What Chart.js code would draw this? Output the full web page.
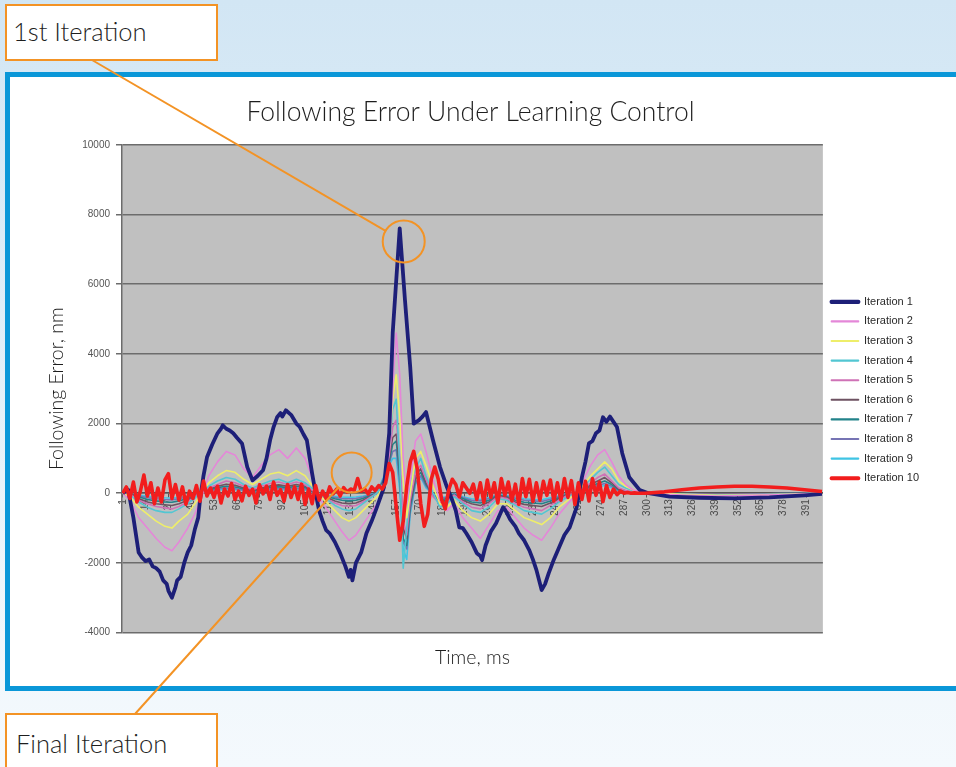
<!DOCTYPE html>
<html>
<head>
<meta charset="utf-8">
<script src="https://cdn.jsdelivr.net/npm/chart.js@4.4.1/dist/chart.umd.min.js"></script>
<style>
  html, body { margin: 0; padding: 0; }
  body {
    width: 956px; height: 767px; overflow: hidden; position: relative;
    background: linear-gradient(180deg, #d2e6f4 0%, #dfeef8 40%, #eef6fb 75%, #f4f9fd 100%);
  }
  .frame {
    position: absolute; left: 5px; top: 72px; width: 970px; height: 619px;
    box-sizing: border-box; border: 5px solid #0a97d8; background: #fff;
  }
  #chart { position: absolute; left: 0; top: 0; }
  .callout {
    position: absolute; left: 5px; width: 213px; box-sizing: border-box;
    background: #fff; border: 2.5px solid #f39325;
    font-family: Lato, "DejaVu Sans", sans-serif; font-weight: 300; font-size: 25.5px; color: #1e1e1e;
    padding-left: 6px;
  }
  #first { top: 4px; height: 57px; line-height: 51px; }
  #final { top: 713px; height: 60px; line-height: 56px; padding-left: 9px; }
</style>
</head>
<body>
<div class="frame"></div>
<canvas id="chart" width="956" height="767"></canvas>
<div class="callout" id="first">1st Iteration</div>
<div class="callout" id="final">Final Iteration</div>
<script>
// time axis labels (ms), one every 13 samples
const timeTicks = [1, 14, 27, 40, 53, 66, 79, 92, 105, 118, 131, 144, 157, 170, 183, 196, 209,
  222, 235, 248, 261, 274, 287, 300, 313, 326, 339, 352, 365, 378, 391];
const errorTicks = [-4000, -2000, 0, 2000, 4000, 6000, 8000, 10000];

// Iteration 1
const iter1Time = [1, 4, 7, 10, 12, 14, 16, 18, 20, 22, 24, 26, 27, 29, 31, 32, 34, 36, 38, 40,
  42, 44, 45, 47, 49, 52, 55, 57, 58, 60, 62, 64, 66, 69, 72, 75, 78, 81, 83, 85,
  87, 89, 91, 92, 94, 97, 100, 102, 104, 106, 109, 111, 113, 115, 117, 119, 122, 125, 128, 130,
  131, 132, 134, 137, 140, 143, 146, 150, 153, 155, 159, 162, 165, 167, 170, 172, 174, 178, 182, 186,
  189, 191, 193, 195, 197, 200, 203, 205, 206, 208, 211, 214, 218, 220, 222, 225, 227, 230, 233, 235,
  237, 240, 242, 244, 247, 250, 253, 256, 260, 263, 265, 267, 269, 271, 273, 275, 277, 279, 283, 286,
  290, 296, 301, 313, 330, 350, 370, 390, 400];
const iter1 = [0, 100, -700, -1700, -1850, -1950, -1900, -2100, -2150, -2250, -2500, -2600, -2800, -3000, -2700, -2500, -2400, -2000, -1700, -1500,
  -1050, -700, -200, 500, 1030, 1400, 1720, 1850, 1950, 1850, 1800, 1720, 1600, 1430, 750, 370, 500, 660, 1000, 1520,
  1900, 2180, 2300, 2200, 2380, 2250, 2000, 1900, 1700, 1520, 570, 0, -500, -800, -1060, -1150, -1400, -1720, -2100, -2400,
  -2200, -2500, -2000, -1700, -1150, -800, -400, 170, 1720, 4600, 7600, 5540, 3620, 2000, 2100, 2200, 2330, 1520, 750, 170,
  -200, -500, -980, -1000, -1150, -1400, -1720, -1800, -1920, -1500, -1100, -860, -400, -550, -750, -950, -1150, -1350, -1640, -1900,
  -2200, -2780, -2600, -2300, -1900, -1550, -1200, -980, -400, 460, 900, 1430, 1500, 1720, 1800, 2180, 2050, 2200, 1900, 1150,
  460, 90, 0, -100, -130, -150, -120, -60, -20];

// Iterations 2 - 9 share one time base
const midTime = [1, 5, 10, 15, 20, 25, 29, 33, 38, 42, 46, 50, 55, 60, 65, 70, 75, 80, 85, 90,
  95, 100, 105, 110, 114, 118, 122, 126, 130, 134, 138, 142, 146, 150, 153, 155, 157, 159, 161, 163,
  165, 168, 171, 174, 178, 182, 186, 190, 195, 200, 205, 210, 215, 220, 225, 230, 235, 240, 245, 250,
  255, 260, 264, 268, 272, 276, 280, 284, 288, 292, 296, 300, 320, 340, 360, 380, 400];
const iter2 = [0, -200, -700, -1000, -1300, -1550, -1650, -1400, -1000, -600, -100, 500, 900, 1200, 1100, 700, 450, 800, 1100, 1250,
  1000, 1300, 1000, 300, -200, -500, -800, -1100, -1350, -1200, -900, -600, -300, 100, 1200, 3000, 4600, 3400, 1000, -300,
  400, 1500, 1700, 1200, 400, -200, -500, -300, -700, -1000, -1300, -900, -500, -400, -700, -1000, -1200, -1350, -1000, -600,
  -300, 0, 400, 800, 1100, 1250, 900, 500, 250, 100, 50, 0, -50, -80, -60, -40, 0];
const iter3 = [0, -100, -400, -600, -800, -950, -1000, -800, -600, -300, 0, 300, 500, 650, 600, 400, 250, 400, 550, 600,
  500, 650, 500, 150, -100, -300, -500, -700, -800, -700, -500, -300, -100, 200, 1300, 2700, 3400, 2200, 400, -700,
  0, 1000, 1200, 800, 200, -300, -400, -200, -500, -700, -800, -600, -300, -300, -500, -700, -800, -900, -700, -400,
  -200, 0, 250, 500, 700, 900, 700, 350, 200, 100, 50, 20, -30, -60, -50, -30, 0];
const iter4 = [0, -50, -250, -400, -500, -550, -550, -450, -300, -150, 50, 200, 350, 450, 400, 250, 150, 250, 350, 400,
  300, 400, 300, 100, -50, -200, -350, -450, -500, -450, -300, -150, 0, 300, 1300, 2400, 2700, 800, -2150, -1000,
  300, 700, 1000, 500, 0, -400, -300, -100, -300, -500, -550, -400, -150, -200, -350, -500, -550, -600, -450, -250,
  -100, 50, 200, 400, 600, 750, 500, 250, 150, 80, 40, 20, -20, -50, -40, -20, 0];
const iter5 = [0, -30, -200, -300, -380, -420, -450, -380, -250, -100, 50, 150, 250, 350, 300, 200, 100, 200, 280, 320,
  250, 320, 250, 50, -80, -180, -280, -350, -380, -350, -250, -120, 0, 300, 1100, 1900, 2100, 1000, -800, -1200,
  -200, 600, 800, 400, -100, -300, -250, -50, -250, -400, -450, -300, -100, -150, -300, -400, -450, -500, -350, -200,
  -50, 50, 150, 300, 450, 550, 350, 150, 80, 40, 20, 10, -20, -40, -30, -20, 0];
const iter6 = [0, -20, -150, -250, -300, -330, -350, -300, -200, -80, 30, 120, 200, 260, 230, 150, 80, 150, 210, 240,
  200, 250, 200, 40, -60, -140, -220, -280, -300, -280, -200, -100, 0, 350, 1000, 1600, 1700, 800, -1000, -1300,
  -300, 500, 700, 300, -50, -250, -200, -50, -200, -300, -350, -250, -80, -120, -250, -320, -350, -380, -280, -150,
  -40, 40, 120, 250, 350, 450, 300, 120, 60, 30, 20, 10, -20, -30, -20, -10, 0];
const iter7 = [0, -10, -100, -180, -220, -250, -260, -220, -150, -60, 30, 100, 160, 200, 180, 120, 60, 120, 170, 190,
  160, 200, 160, 30, -40, -100, -160, -200, -220, -200, -150, -70, 0, 400, 900, 1400, 1500, 500, -1300, -1500,
  -400, 400, 600, 250, -50, -200, -150, -30, -150, -250, -280, -200, -60, -100, -200, -260, -280, -300, -220, -120,
  -30, 30, 100, 200, 280, 350, 250, 100, 50, 20, 10, 0, -20, -30, -20, -10, 0];
const iter8 = [0, -5, -70, -130, -160, -180, -190, -160, -110, -40, 20, 80, 120, 150, 130, 90, 40, 90, 130, 150,
  120, 150, 120, 20, -30, -80, -120, -150, -160, -150, -110, -50, 0, 450, 850, 1200, 1250, 300, -1400, -1600,
  -500, 300, 500, 200, -40, -150, -120, -20, -120, -200, -220, -150, -50, -80, -150, -200, -220, -240, -170, -90,
  -20, 20, 80, 160, 220, 280, 200, 80, 40, 20, 10, 0, -20, -30, -20, -10, 0];
const iter9 = [0, 0, -50, -90, -110, -130, -140, -120, -80, -30, 20, 60, 90, 110, 100, 70, 30, 70, 100, 110,
  90, 110, 90, 10, -20, -60, -90, -110, -120, -110, -80, -40, 0, 500, 800, 1000, 1000, 100, -1600, -1900,
  -600, 250, 450, 150, -30, -120, -100, -10, -100, -160, -180, -120, -40, -60, -120, -160, -180, -190, -130, -70,
  -10, 20, 60, 120, 180, 220, 160, 60, 30, 10, 10, 0, -20, -30, -20, -10, 0];

// Iteration 10 (final), sampled every 2 ms
const iter10Time = [1, 3, 5, 7, 9, 11, 13, 15, 17, 19, 21, 23, 25, 27, 29, 31, 33, 35, 37, 39, 41, 43, 45, 47, 49,
  51, 53, 55, 57, 59, 61, 63, 65, 67, 69, 71, 73, 75, 77, 79, 81, 83, 85, 87, 89, 91, 93, 95, 97, 99,
  101, 103, 105, 107, 109, 111, 113, 115, 117, 119, 121, 123, 125, 127, 129, 131, 133, 135, 137, 139, 141, 143, 145, 147, 149,
  151, 153, 155, 157, 159, 161, 163, 165, 167, 169, 171, 173, 175, 177, 179, 181, 183, 185, 187, 189, 191, 193, 195, 197, 199,
  201, 203, 205, 207, 209, 211, 213, 215, 217, 219, 221, 223, 225, 227, 229, 231, 233, 235, 237, 239, 241, 243, 245, 247, 249,
  251, 253, 255, 257, 259, 261, 263, 265, 267, 269, 271, 273, 275, 277, 279, 281, 283, 285, 287, 289, 291, 293, 295, 297, 299,
  310, 320, 330, 340, 350, 360, 370, 380, 390, 400];
const iter10 = [0, 180, -150, 320, -250, 60, 520, -80, 300, -300, 150, -250, 380, 560, -150, 250, -200, 180, -320, 60, -150, 220, -230, 350, -80,
  150, -120, 200, -280, 120, -80, 280, -180, 60, -220, 200, -60, 120, -280, 240, -20, 200, -180, 320, -60, 100, -230, 250, -120, 180,
  -180, 260, -320, 120, -300, 220, -200, 60, -150, 180, -20, 120, -80, 160, 30, 120, 80, 420, 60, 120, -20, 180, 80, 220, 120,
  300, 850, 600, -400, -1350, -800, 200, 900, 1200, 700, -300, -950, -600, 400, 750, 400, -200, -450, 100, 400, 250, -100, 300, 150, 0,
  260, -180, 300, -260, 380, -120, 300, -280, 420, -60, 320, -220, 260, -320, 420, -100, 400, -240, 300, -200, 340, -60, 380, -220, 300,
  -200, 420, -120, 360, -320, 300, -180, 340, -220, 420, -60, 320, -240, 220, -120, 120, -40, 60, 0, 20, 0, 10, 0, 0, 0,
  40, 100, 150, 180, 200, 200, 180, 150, 100, 50];

// samples the two callouts point at
const firstMarkTime = 159;
const finalMarkTime = 135;

function pts(t, v) { return t.map((x, i) => ({ x: x, y: v[i] })); }

function series(label, t, v, color, width, order) {
  return {
    label: label, data: pts(t, v), borderColor: color, backgroundColor: color,
    borderWidth: width, borderJoinStyle: 'round', pointRadius: 0, tension: 0, order: order
  };
}

const datasets = [
  series('Iteration 1', iter1Time, iter1, '#1d1f78', 3.8, 1),
  series('Iteration 2', midTime, iter2, '#e487d8', 1.6, 2),
  series('Iteration 3', midTime, iter3, '#eeee6a', 1.6, 3),
  series('Iteration 4', midTime, iter4, '#52c6d2', 1.6, 4),
  series('Iteration 5', midTime, iter5, '#cf72b6', 1.6, 5),
  series('Iteration 6', midTime, iter6, '#6e5262', 1.6, 6),
  series('Iteration 7', midTime, iter7, '#23838a', 1.6, 7),
  series('Iteration 8', midTime, iter8, '#7674b4', 1.6, 8),
  series('Iteration 9', midTime, iter9, '#3fc4e4', 1.6, 9),
  series('Iteration 10', iter10Time, iter10, '#f21d1d', 3.6, 0)
];

// grey plot area like the spreadsheet default
const plotBackground = {
  id: 'plotBackground',
  beforeDraw(chart) {
    const { ctx, chartArea: a } = chart;
    ctx.save();
    ctx.fillStyle = '#c0c0c0';
    ctx.fillRect(a.left, a.top, a.right - a.left, a.bottom - a.top);
    ctx.restore();
  }
};

// orange circles and leader lines for the two callouts
const callouts = {
  id: 'callouts',
  afterDraw(chart) {
    const { ctx } = chart;
    const sx = chart.scales.x, sy = chart.scales.y;
    const v1 = iter1[iter1Time.indexOf(firstMarkTime)];
    const v10 = iter10[iter10Time.indexOf(finalMarkTime)];
    const marks = [
      { cx: sx.getPixelForValue(firstMarkTime) + 4, cy: sy.getPixelForValue(v1) + 13, r: 21, fromX: 92, fromY: 60 },
      { cx: sx.getPixelForValue(finalMarkTime) - 6, cy: sy.getPixelForValue(v10) - 6, r: 20, fromX: 135, fromY: 714 }
    ];
    ctx.save();
    ctx.strokeStyle = '#f39325';
    ctx.lineWidth = 2;
    marks.forEach(m => {
      const dx = m.cx - m.fromX, dy = m.cy - m.fromY;
      const len = Math.hypot(dx, dy);
      ctx.beginPath();
      ctx.moveTo(m.fromX, m.fromY);
      ctx.lineTo(m.cx - dx / len * m.r, m.cy - dy / len * m.r);
      ctx.stroke();
      ctx.beginPath();
      ctx.arc(m.cx, m.cy, m.r, 0, Math.PI * 2);
      ctx.stroke();
    });
    ctx.restore();
  }
};

const smallFont = { family: 'Liberation Sans', size: 10 };

new Chart(document.getElementById('chart'), {
  type: 'line',
  data: { datasets: datasets },
  plugins: [plotBackground, callouts],
  options: {
    responsive: false,
    animation: false,
    events: [],
    layout: { padding: { left: 12, top: 97, right: 27, bottom: 98 } },
    plugins: {
      title: {
        display: true,
        text: 'Following Error Under Learning Control',
        color: '#1e1e1e',
        font: { family: 'Lato', size: 26.5, weight: 300 },
        padding: { top: 0, bottom: 16 }
      },
      legend: {
        position: 'right',
        align: 'center',
        title: { display: true, text: '', padding: 0, font: { size: 11.7 } },
        labels: {
          boxWidth: 27, boxHeight: 0.5, padding: 8.6, color: '#2a2a2a',
          font: { family: 'Liberation Sans', size: 11 },
          sort: (a, b) => a.datasetIndex - b.datasetIndex
        }
      },
      tooltip: { enabled: false }
    },
    scales: {
      x: {
        type: 'linear',
        position: { y: 0 },
        min: 0.5,
        max: 400.5,
        afterBuildTicks: s => { s.ticks = timeTicks.map(v => ({ value: v })); },
        ticks: { autoSkip: false, minRotation: 90, maxRotation: 90, color: '#4a4a4a', font: smallFont, padding: 2 },
        grid: { display: true, drawOnChartArea: false, tickLength: 4, color: '#555' },
        border: { color: '#555', width: 1.5 }
      },
      x2: {
        type: 'linear',
        position: 'bottom',
        ticks: { display: false },
        grid: { display: false, drawTicks: false },
        border: { display: false },
        title: {
          display: true, text: 'Time, ms', color: '#1e1e1e',
          font: { family: 'Lato', size: 19.5, weight: 300 }, padding: { top: 13, bottom: 0 }
        }
      },
      y: {
        min: -4000,
        max: 10000,
        afterBuildTicks: s => { s.ticks = errorTicks.map(v => ({ value: v })); },
        afterFit: s => { s.width = 110; },
        ticks: { color: '#555', font: smallFont, padding: 6, callback: v => String(v) },
        grid: { color: '#6c6c6c', lineWidth: 1.5, tickLength: 6 },
        border: { color: '#6c6c6c', width: 1.5 },
        title: {
          display: true, text: 'Following Error, nm', color: '#1e1e1e',
          font: { family: 'Lato', size: 19.5, weight: 300 }, padding: { top: 33, bottom: 0 }
        }
      }
    }
  }
});
</script>
</body>
</html>
